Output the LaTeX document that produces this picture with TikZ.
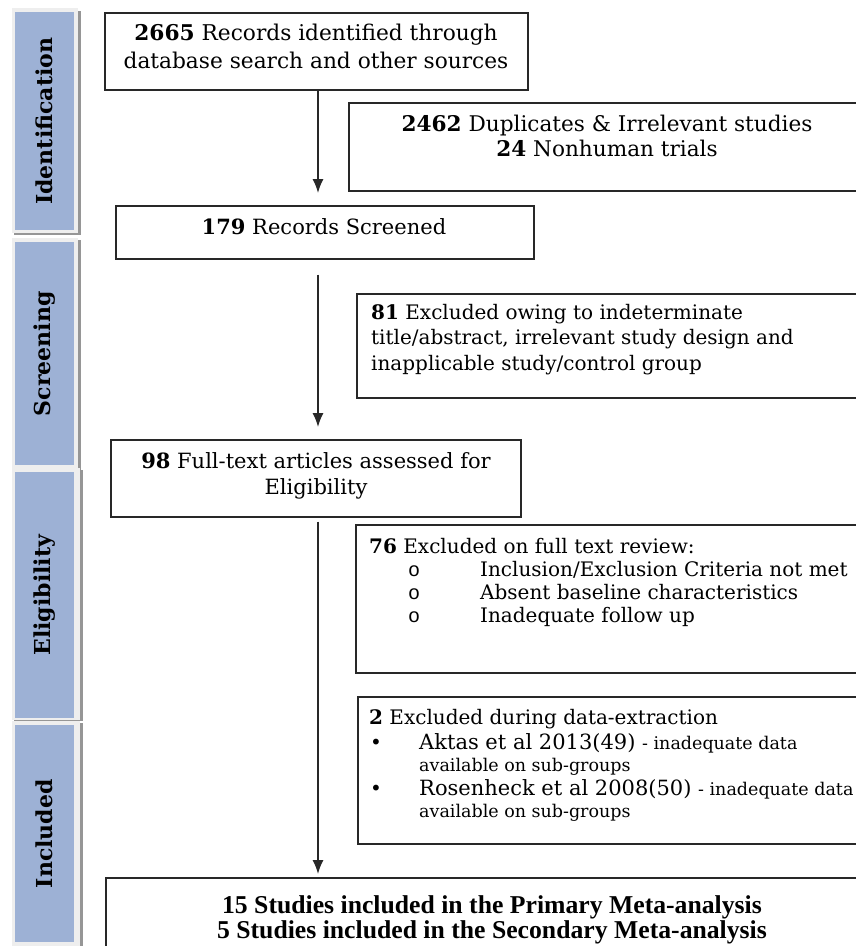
\documentclass[tikz,border=0pt]{standalone}
\usepackage{fontspec}
\setmainfont{DejaVu Serif}
\newfontfamily\timesfont{Liberation Serif}
\newfontfamily\monofont{Liberation Mono}
\newcommand\smalltxtfont{\fontsize{17.5}{17.5}\selectfont}
\usetikzlibrary{arrows.meta}
\definecolor{barblue}{RGB}{157,177,213}
\definecolor{framegray}{RGB}{238,238,238}
\definecolor{shadowgray}{RGB}{150,150,150}
\definecolor{linec}{RGB}{40,40,40}
\begin{document}
\begin{tikzpicture}[x=1pt,y=-1pt,
  box/.style={draw=linec, line width=1.5pt, rectangle, inner sep=0pt, anchor=north west},
  ctxt/.style={inner sep=0pt, font=\fontsize{21}{28}\selectfont, align=center, anchor=base},
  ltxt/.style={inner sep=0pt, font=\fontsize{20}{25.5}\selectfont, align=left, anchor=base west},
  smalltxt/.style={font=\smalltxtfont},
  bar/.style={fill=barblue, draw=none, rectangle, inner sep=0pt, anchor=north west, minimum width=59pt},
  barlabel/.style={rotate=90, inner sep=0pt, font=\fontsize{22}{22}\selectfont\bfseries},
  arr/.style={draw=linec, line width=1.5pt, -{Latex[length=14pt,width=11pt]}},
  bul/.style={inner sep=0pt, anchor=base, font=\fontsize{20}{20}\selectfont}
]
\useasboundingbox (0,0) rectangle (856,946);
\clip (0,0) rectangle (856,946);
\fill[white] (0,0) rectangle (856,946);

% side bars
\fill[shadowgray] (14,11) rectangle (81,235);
\fill[framegray] (12,8) rectangle (78,233);
\node[bar, minimum height=218pt] (idbar) at (15,12) {};
\node[barlabel] (idlab) at (idbar.center) {Identification};

\fill[shadowgray] (14,240) rectangle (81,470);
\fill[framegray] (12,238) rectangle (78,468);
\node[bar, minimum height=223pt] (scbar) at (15,242) {};
\node[barlabel] (sclab) at (scbar.center) {Screening};

\fill[shadowgray] (14,470) rectangle (83,721);
\fill[framegray] (12,468) rectangle (80,720);
\node[bar, minimum height=246pt] (elbar) at (15,472) {};
\node[barlabel] (ellab) at (elbar.center) {Eligibility};

\fill[shadowgray] (14,723) rectangle (83,946);
\fill[framegray] (12,721) rectangle (80,946);
\node[bar, minimum height=217pt] (inbar) at (15,725) {};
\node[barlabel] (inlab) at (inbar.center) {Included};

% boxes
\node[box, minimum width=423pt, minimum height=77pt] (b1) at (104,12) {};
\node[box, minimum width=520pt, minimum height=88pt] (b2) at (348,102) {};
\node[box, minimum width=418pt, minimum height=53pt] (b3) at (115,205) {};
\node[box, minimum width=512pt, minimum height=104pt] (b4) at (356,293) {};
\node[box, minimum width=410pt, minimum height=77pt] (b5) at (110,439) {};
\node[box, minimum width=513pt, minimum height=148pt] (b6) at (355,524) {};
\node[box, minimum width=511pt, minimum height=147pt] (b7) at (357,696) {};
\node[box, minimum width=763pt, minimum height=100pt] (b8) at (105,877) {};

% texts (base anchor = last line's baseline)
\node[ctxt, font=\fontsize{21.7}{28}\selectfont] (t1) at (316,68) {\textbf{2665} Records identified through\\database search and other sources};
\node[ctxt, font=\fontsize{21.6}{25}\selectfont] (t2) at (607,156) {\textbf{2462} Duplicates \& Irrelevant studies\\\textbf{24} Nonhuman trials};
\node[ctxt] (t3) at (324,234) {\textbf{179} Records Screened};
\node[ltxt] (t4) at (371,370) {\textbf{81} Excluded owing to indeterminate\\title/abstract, irrelevant study design and\\inapplicable study/control group};
\node[ctxt, font=\fontsize{21}{26}\selectfont] (t5) at (316,494) {\textbf{98} Full-text articles assessed for\\Eligibility};

\node[ltxt] (t6) at (369,553) {\textbf{76} Excluded on full text review:};
\node[bul] (o1) at (414,576) {\monofont o};
\node[bul] (o2) at (414,599) {\monofont o};
\node[bul] (o3) at (414,622) {\monofont o};
\node[ltxt] (t6a) at (480,576) {Inclusion/Exclusion Criteria not met};
\node[ltxt] (t6b) at (480,599) {Absent baseline characteristics};
\node[ltxt] (t6c) at (480,622) {Inadequate follow up};

\node[ltxt] (t7) at (369,724) {\textbf{2} Excluded during data-extraction};
\node[bul] (p1) at (376,749) {\textbullet};
\node[bul] (p2) at (376,795) {\textbullet};
\node[ltxt, font=\fontsize{21}{21}\selectfont] (t7a) at (419,749) {Aktas et al 2013(49) {\smalltxtfont - inadequate data}};
\node[ltxt, smalltxt] (t7b) at (419,771) {available on sub-groups};
\node[ltxt, font=\fontsize{21}{21}\selectfont] (t7c) at (419,795) {Rosenheck et al 2008(50) {\smalltxtfont - inadequate data}};
\node[ltxt, smalltxt] (t7d) at (419,817) {available on sub-groups};

\node[ctxt, font=\timesfont\fontsize{25.7}{23}\selectfont\bfseries] (t8) at (492,938) {15 Studies included in the Primary Meta-analysis\\5 Studies included in the Secondary Meta-analysis};

% arrows
\coordinate (ax) at (318,0);
\draw[arr, shorten >=12pt] (b1.south -| ax) -- (b3.north -| ax);
\draw[arr, shorten <=15pt, shorten >=12pt] (b3.south -| ax) -- (b5.north -| ax);
\draw[arr, shorten <=4pt, shorten >=3pt] (b5.south -| ax) -- (b8.north -| ax);
\end{tikzpicture}
\end{document}
